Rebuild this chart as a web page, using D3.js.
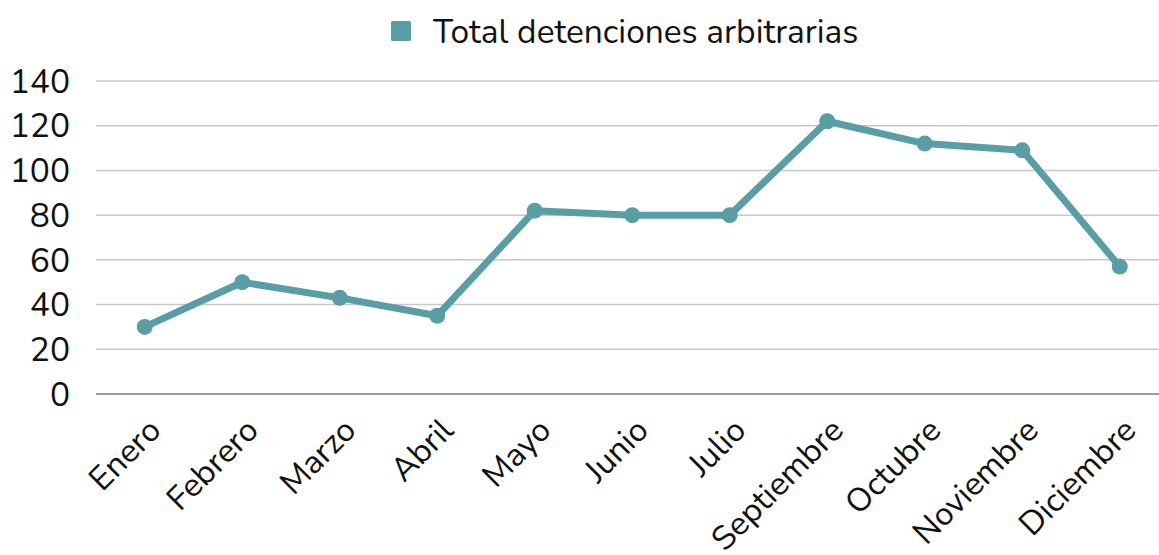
<!DOCTYPE html>
<html>
<head>
<meta charset="utf-8">
<script src="https://cdn.jsdelivr.net/npm/d3@7"></script>
<style>
  body { margin: 0; background: #fff; }
  svg { display: block; font-family: "Nunito", "Lato", "Open Sans", sans-serif; }
</style>
</head>
<body>
<div id="chart"></div>
<script>
var months = ["Enero", "Febrero", "Marzo", "Abril", "Mayo", "Junio", "Julio",
    "Septiembre", "Octubre", "Noviembre", "Diciembre"];
var detenciones = [30, 50, 43, 35, 82, 80, 80, 122, 112, 109, 57];
var yTicks = [0, 20, 40, 60, 80, 100, 120, 140];
var seriesName = "Total detenciones arbitrarias";

var width = 1159, height = 555;
var color = "#599ea4";

var svg = d3.select("#chart").append("svg")
    .attr("width", width)
    .attr("height", height);

var x = d3.scaleBand()
    .domain(months)
    .range([96, 1168.5]);

var y = d3.scaleLinear()
    .domain([0, 140])
    .range([394, 81]);

// gridlines
svg.append("g")
    .selectAll("line")
    .data(yTicks.filter(function(d) { return d > 0; }))
    .enter().append("line")
    .attr("x1", 96)
    .attr("x2", width)
    .attr("y1", function(d) { return y(d); })
    .attr("y2", function(d) { return y(d); })
    .attr("stroke", "#c8c8c8")
    .attr("stroke-width", 1.5);

// y labels
svg.append("g")
    .selectAll("text")
    .data(yTicks)
    .enter().append("text")
    .attr("x", 70)
    .attr("y", function(d) { return y(d); })
    .attr("dy", "0.35em")
    .attr("text-anchor", "end")
    .style("font-size", "33.5px")
    .attr("fill", "#111")
    .text(function(d) { return d; });

// baseline
svg.append("line")
    .attr("x1", 96).attr("x2", width)
    .attr("y1", y(0)).attr("y2", y(0))
    .attr("stroke", "#777")
    .attr("stroke-width", 1.5);

// x labels
svg.append("g")
    .selectAll("text")
    .data(months)
    .enter().append("text")
    .attr("text-anchor", "end")
    .attr("transform", function(d) {
        return "translate(" + (x(d) + x.bandwidth() / 2 + 18) + "," + (y(0) + 38) + ") rotate(-45)";
    })
    .style("font-size", "33px")
    .attr("fill", "#111")
    .text(function(d) { return d; });

var line = d3.line()
    .x(function(d, i) { return x(months[i]) + x.bandwidth() / 2; })
    .y(function(d) { return y(d); });

svg.append("path")
    .datum(detenciones)
    .attr("fill", "none")
    .attr("stroke", color)
    .attr("stroke-width", 7)
    .attr("stroke-linejoin", "round")
    .attr("d", line);

svg.append("g")
    .selectAll("circle")
    .data(detenciones)
    .enter().append("circle")
    .attr("cx", function(d, i) { return x(months[i]) + x.bandwidth() / 2; })
    .attr("cy", function(d) { return y(d); })
    .attr("r", 8)
    .attr("fill", color);

// legend
var legend = svg.append("g");
legend.append("rect")
    .attr("x", 391).attr("y", 21)
    .attr("width", 20).attr("height", 20)
    .attr("rx", 1.5)
    .attr("fill", color);
legend.append("text")
    .attr("x", 433)
    .attr("y", 31)
    .attr("dy", "0.35em")
    .style("font-size", "33.5px")
    .attr("fill", "#111")
    .text(seriesName);
</script>
</body>
</html>
